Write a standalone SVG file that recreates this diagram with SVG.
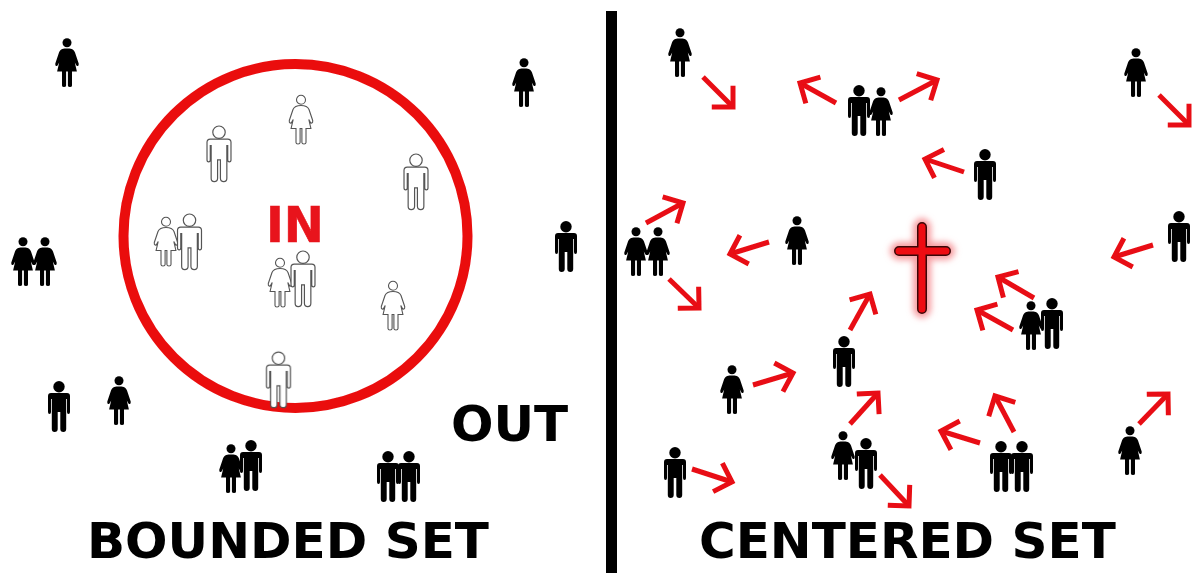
<svg xmlns="http://www.w3.org/2000/svg" xmlns:xlink="http://www.w3.org/1999/xlink" width="1193" height="573" viewBox="0 0 1193 573">
<style>
text{font-family:"DejaVu Sans",sans-serif;font-weight:700;fill:#000}
.title{font-size:50px}
.b{fill:#000}
.w{fill:#fff;stroke:#555;stroke-width:1.1}
.arrow line{stroke:#e81012;stroke-width:5;marker-end:url(#head)}
</style>
<defs>
<filter id="soft" x="-5%" y="-5%" width="110%" height="110%"><feGaussianBlur stdDeviation="0.45"/></filter>
<filter id="glow" x="-40%" y="-40%" width="180%" height="180%"><feGaussianBlur stdDeviation="3"/></filter>
<marker id="head" markerUnits="userSpaceOnUse" markerWidth="40" markerHeight="40" refX="22" refY="20" orient="auto" overflow="visible">
<path d="M7 5 L22 20 L7 35" fill="none" stroke="#e81012" stroke-width="5"/>
</marker>
<g id="man">
<circle cx="0" cy="5.700" r="5.700"/>
<path d="M-8 12H8Q11 12 11 15V31Q11 33 9.500 33Q8 33 8 31V18H7.200V48Q7.200 51 4.400 51Q1.300 51 1.300 48V31H-1.300V48Q-1.300 51 -4.400 51Q-7.200 51 -7.200 48V18H-8V31Q-8 33 -9.500 33Q-11 33 -11 31V15Q-11 12 -8 12Z"/>
</g>
<g id="woman">
<circle cx="0" cy="4.800" r="4.500"/>
<path d="M0 10.500C3.500 10.500 6.500 10.800 8 14.500L11.700 25.500Q12 27.500 10.900 28Q9.700 28.400 9.300 27.300L7.800 24.500L9.900 33.500H5V47.500Q5 49 3 49Q1 49 .9 47.500V33.500H-.9V47.500Q-1 49 -3 49Q-5 49 -5 47.500V33.500H-9.900L-7.800 24.500L-9.300 27.300Q-9.700 28.400 -10.900 28Q-12 27.500 -11.700 25.500L-8 14.500C-6.500 10.800 -3.500 10.500 0 10.500Z"/>
</g>
</defs>
<rect width="1193" height="573" fill="#fff"/>
<rect id="divider" x="606" y="11" width="11" height="562" fill="#000"/>
<g id="boundary" filter="url(#soft)"><circle cx="295.500" cy="236" r="172" fill="none" stroke="#ea0c10" stroke-width="10"/></g>
<g id="cross">
<path d="M922 227V309M899 251H946" stroke="#f79ca0" stroke-width="18" stroke-linecap="round" fill="none" filter="url(#glow)"/>
<path d="M922 227V309M899 251H946" stroke="#3a0808" stroke-width="10" stroke-linecap="round" fill="none"/>
<path d="M922 227V309M899 251H946" stroke="#ee0c12" stroke-width="7" stroke-linecap="round" fill="none"/>
</g>
<g id="people-out" class="b" filter="url(#soft)">
<use id="o1" xlink:href="#woman" href="#woman" x="67" y="38"/>
<use id="o2" xlink:href="#woman" href="#woman" x="524" y="58"/>
<use id="o3" xlink:href="#man" href="#man" x="566" y="221"/>
<use id="o4" xlink:href="#woman" href="#woman" x="23" y="237"/>
<use id="o5" xlink:href="#woman" href="#woman" x="45" y="237"/>
<use id="o6" xlink:href="#man" href="#man" x="59" y="381"/>
<use id="o7" xlink:href="#woman" href="#woman" x="119" y="376"/>
<use id="o8" xlink:href="#woman" href="#woman" x="231" y="444"/>
<use id="o9" xlink:href="#man" href="#man" x="251" y="440"/>
<use id="o10" xlink:href="#man" href="#man" x="388" y="451"/>
<use id="o11" xlink:href="#man" href="#man" x="409" y="451"/>
</g>
<g id="people-in" class="w" filter="url(#soft)">
<use id="i1" xlink:href="#man" href="#man" transform="translate(219 126) scale(1.09)"/>
<use id="i2" xlink:href="#woman" href="#woman" x="301" y="95"/>
<use id="i3" xlink:href="#man" href="#man" transform="translate(416 154) scale(1.09)"/>
<use id="i4" xlink:href="#woman" href="#woman" x="166" y="217"/>
<use id="i5" xlink:href="#man" href="#man" transform="translate(189.500 214) scale(1.09)"/>
<use id="i6" xlink:href="#woman" href="#woman" x="280" y="258"/>
<use id="i7" xlink:href="#man" href="#man" transform="translate(303 251) scale(1.09)"/>
<use id="i8" xlink:href="#woman" href="#woman" x="393" y="281"/>
<use id="i9" xlink:href="#man" href="#man" transform="translate(278.500 352) scale(1.09)"/>
</g>
<g id="people-center" class="b" filter="url(#soft)">
<use id="c1" xlink:href="#woman" href="#woman" x="680" y="28"/>
<use id="c2" xlink:href="#man" href="#man" x="859" y="85"/>
<use id="c3" xlink:href="#woman" href="#woman" x="881" y="87"/>
<use id="c4" xlink:href="#woman" href="#woman" x="1136" y="48"/>
<use id="c5" xlink:href="#man" href="#man" x="985" y="149"/>
<use id="c6" xlink:href="#man" href="#man" x="1179" y="211"/>
<use id="c7" xlink:href="#woman" href="#woman" x="797" y="216"/>
<use id="c8" xlink:href="#woman" href="#woman" x="636" y="227"/>
<use id="c9" xlink:href="#woman" href="#woman" x="658" y="227"/>
<use id="c10" xlink:href="#woman" href="#woman" x="1031" y="301"/>
<use id="c11" xlink:href="#man" href="#man" x="1052" y="298"/>
<use id="c12" xlink:href="#man" href="#man" x="844" y="336"/>
<use id="c13" xlink:href="#woman" href="#woman" x="732" y="365"/>
<use id="c14" xlink:href="#man" href="#man" x="675" y="447"/>
<use id="c15" xlink:href="#woman" href="#woman" x="843" y="431"/>
<use id="c16" xlink:href="#man" href="#man" x="866" y="438"/>
<use id="c17" xlink:href="#man" href="#man" x="1001" y="441"/>
<use id="c18" xlink:href="#man" href="#man" x="1022" y="441"/>
<use id="c19" xlink:href="#woman" href="#woman" x="1130" y="426"/>
</g>
<g id="connectors" class="arrow" filter="url(#soft)">
<line x1="703" y1="77" x2="733" y2="107"/>
<line x1="836" y1="103" x2="800" y2="83"/>
<line x1="899" y1="100" x2="937" y2="80"/>
<line x1="964" y1="172" x2="925" y2="159"/>
<line x1="1159" y1="95" x2="1189" y2="125"/>
<line x1="646" y1="223" x2="683" y2="203"/>
<line x1="669" y1="279" x2="699" y2="308"/>
<line x1="769" y1="242" x2="730" y2="254"/>
<line x1="1153" y1="245" x2="1114" y2="257"/>
<line x1="850" y1="330" x2="870" y2="294"/>
<line x1="1034" y1="298" x2="998" y2="277"/>
<line x1="1013" y1="330" x2="977" y2="310"/>
<line x1="753" y1="385" x2="793" y2="373"/>
<line x1="850" y1="424" x2="878" y2="393"/>
<line x1="692" y1="469" x2="732" y2="482"/>
<line x1="880" y1="475" x2="909" y2="506"/>
<line x1="1014" y1="432" x2="995" y2="396"/>
<line x1="980" y1="443" x2="941" y2="431"/>
<line x1="1139" y1="424" x2="1168" y2="394"/>
</g>
<text id="in" x="266" y="242" font-size="50" style="fill:#e8141c;stroke:#e8141c;stroke-width:.6" textLength="58" lengthAdjust="spacingAndGlyphs">IN</text>
<text id="out" x="451" y="441" font-size="50">OUT</text>
<text id="bounded" class="title" x="87" y="558">BOUNDED SET</text>
<text id="centered" class="title" x="699" y="558">CENTERED SET</text>
</svg>
